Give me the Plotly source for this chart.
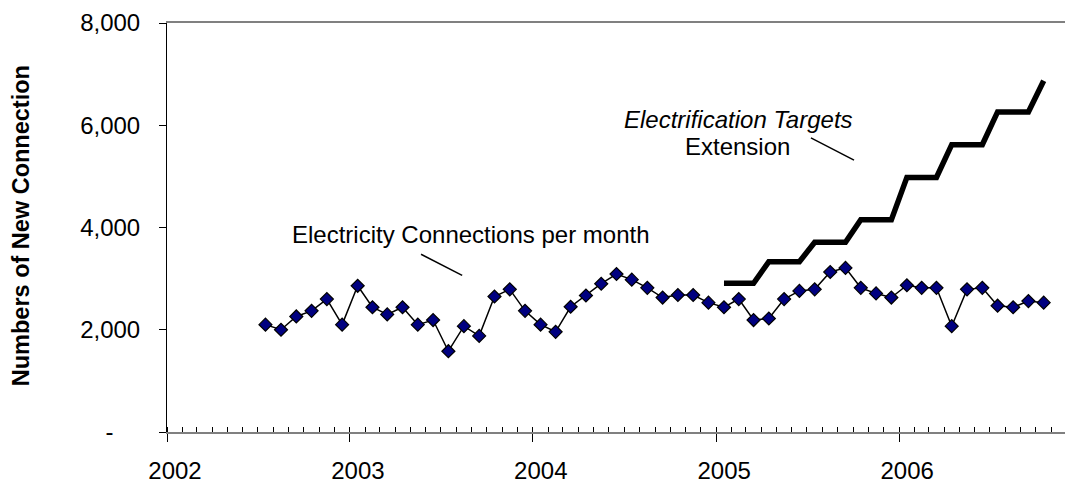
import pandas as pd
import plotly.graph_objects as go

# monthly categories, Jul 2002 .. Oct 2006
months = pd.date_range("2002-07-01", "2006-10-01", freq="MS")
# points sit in the middle of each month (Excel category style)
mid_month = months + (months + pd.offsets.MonthBegin(1) - months) / 2

connections = [2100, 2000, 2260, 2370, 2600, 2100, 2860, 2440, 2300, 2440,
               2100, 2190, 1580, 2070, 1880, 2650, 2790, 2370, 2100, 1960,
               2450, 2670, 2900, 3090, 2980, 2820, 2630, 2680, 2680, 2530,
               2440, 2600, 2190, 2220, 2600, 2760, 2790, 3130, 3210, 2820,
               2710, 2630, 2870, 2820, 2820, 2070, 2790, 2820, 2470, 2440,
               2560, 2530]

# electrification targets extension, Jan 2005 .. Oct 2006
targets = [2910, 2910, 2910, 3330, 3330, 3330, 3710, 3710, 3710,
           4150, 4150, 4150, 4980, 4980, 4980, 5620, 5620, 5620,
           6260, 6260, 6260, 6870]

y_ticks = [0, 2000, 4000, 6000, 8000]
y_labels = ["-\u00a0\u00a0\u00a0\u00a0", "2,000", "4,000", "6,000", "8,000"]

fig = go.Figure()
fig.add_trace(go.Scatter(
    x=mid_month[-len(targets):], y=targets, mode="lines",
    line=dict(color="black", width=5.5), name="Targets"))
fig.add_trace(go.Scatter(
    x=mid_month, y=connections, mode="lines+markers",
    line=dict(color="black", width=1.5),
    marker=dict(symbol="diamond", size=10, color="#000080",
                line=dict(color="black", width=1.2)),
    name="Connections"))

fig.add_annotation(x="2003-08-30", y=3855, text="Electricity Connections per month",
                   showarrow=False, font=dict(size=24))
fig.add_annotation(x="2005-02-14", y=6118, text="<i>Electrification Targets</i>",
                   showarrow=False, font=dict(size=24))
fig.add_annotation(x="2005-02-13", y=5587, text="Extension",
                   showarrow=False, font=dict(size=24))
fig.add_annotation(xref="paper", yref="paper", x=-0.162, y=0.504,
                   xanchor="center", yanchor="middle",
                   text="<b>Numbers of New Connection</b>", textangle=-90,
                   showarrow=False, font=dict(size=23.5))

# pointer lines next to the labels
fig.add_shape(type="line", x0="2003-05-23", y0=3477, x1="2003-08-13", y1=3063,
              line=dict(color="black", width=1.5))
fig.add_shape(type="line", x0="2005-07-09", y0=5754, x1="2005-10-03", y1=5319,
              line=dict(color="black", width=1.5))

# page body has an 8px margin, so the figure is 8px smaller than the window
fig.update_layout(
    width=1065, height=477,
    margin=dict(l=159, r=1, t=13, b=39),
    plot_bgcolor="white", paper_bgcolor="white",
    showlegend=False,
    font=dict(family="Liberation Sans, Arial, sans-serif", size=24, color="black"),
)
fig.update_xaxes(
    type="date", range=["2002-01-01", "2006-12-12"],
    tick0="2002-01-01", dtick="M12", tickformat="%Y",
    ticks="outside", ticklen=8, tickcolor="black",
    ticklabelshift=8, ticklabelstandoff=8, ticklabeloverflow="allow",
    showline=True, linecolor="#808080", linewidth=1.5, mirror=True,
    showgrid=False, zeroline=False,
    minor=dict(dtick="M1", ticks="inside", ticklen=5, tickcolor="black", showgrid=False),
)
fig.update_yaxes(
    range=[0, 8000], tickvals=y_ticks, ticktext=y_labels,
    ticks="outside", ticklen=7, tickcolor="black",
    ticklabelstandoff=14, ticklabeloverflow="allow",
    showline=True, linecolor="black", linewidth=1,
    showgrid=False, zeroline=False,
)

fig.write_html("out.html")
